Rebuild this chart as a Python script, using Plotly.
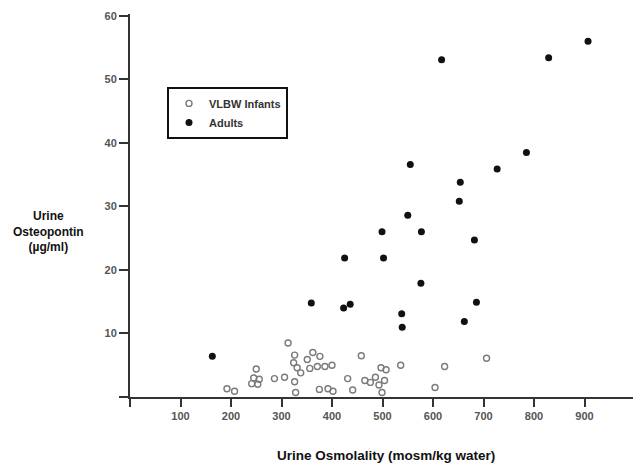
import plotly.graph_objects as go

# Urine osmolality (mosm/kg water) and osteopontin (µg/ml)
infant_osm = [313, 326, 362, 376, 351, 324, 331, 338, 356, 371, 386, 400,
              250, 245, 256, 241, 253, 286, 306, 326, 328, 192, 207, 375,
              392, 402, 458, 431, 441, 465, 476, 486, 493, 497, 507, 504,
              499, 536, 604, 623, 706]
infant_opn = [8.5, 6.6, 7.0, 6.4, 5.9, 5.4, 4.6, 3.8, 4.5, 4.8, 4.8, 5.0,
              4.4, 3.0, 2.8, 2.1, 2.0, 2.9, 3.1, 2.4, 0.7, 1.3, 0.9, 1.2,
              1.3, 0.9, 6.5, 2.9, 1.1, 2.6, 2.3, 3.1, 1.9, 4.6, 4.3, 2.6,
              0.7, 5.0, 1.5, 4.8, 6.1]

adult_osm = [163, 359, 423, 436, 425, 538, 539, 502, 499, 576, 550, 577,
             555, 617, 652, 654, 662, 682, 686, 727, 785, 829, 907]
adult_opn = [6.4, 14.8, 14.0, 14.6, 21.9, 13.1, 11.0, 21.9, 26.0, 17.9, 28.6, 26.0,
             36.6, 53.1, 30.8, 33.8, 11.9, 24.7, 14.9, 35.9, 38.5, 53.4, 56.0]

x_ticks = [0, 100, 200, 300, 400, 500, 600, 700, 800, 900]
x_labels = ["", "100", "200", "300", "400", "500", "600", "700", "800", "900"]
y_ticks = [0, 10, 20, 30, 40, 50, 60]
y_labels = ["", "10", "20", "30", "40", "50", "60"]

FONT = "Liberation Sans"

fig = go.Figure()
fig.add_trace(go.Scatter(
    x=infant_osm, y=infant_opn, mode="markers", name="VLBW Infants",
    legendgroup="a",
    marker=dict(symbol="circle-open", size=6, color="#7a7a7a", line=dict(width=1.4)),
))
fig.add_trace(go.Scatter(
    x=adult_osm, y=adult_opn, mode="markers", name="Adults",
    legendgroup="b",
    marker=dict(symbol="circle", size=7, color="#111111"),
))

axis_common = dict(
    showgrid=False, zeroline=False, showline=True, linewidth=2, linecolor="#333333",
    ticks="outside", tickwidth=2, tickcolor="#333333",
    tickfont=dict(family=FONT, size=11, color="#555555", weight="bold"),
)
fig.update_xaxes(range=[0, 996], tickmode="array", tickvals=x_ticks, ticktext=x_labels,
                 ticklen=8, **axis_common)
fig.update_yaxes(range=[0, 60.3], tickmode="array", tickvals=y_ticks, ticktext=y_labels,
                 ticklen=9, **axis_common)

fig.add_annotation(text="Urine Osmolality (mosm/kg water)", xref="paper", yref="paper",
                   x=(386 - 130) / 503, y=(397.5 - 456) / 383.5, showarrow=False,
                   xanchor="center", yanchor="middle",
                   font=dict(family=FONT, size=13.5, color="#111111", weight="bold"))
fig.add_annotation(text="Urine<br>Osteopontin<br>(µg/ml)", xref="paper", yref="paper",
                   x=(48 - 130) / 503, y=(397.5 - 232) / 383.5, showarrow=False,
                   xanchor="center", yanchor="middle", align="center",
                   font=dict(family=FONT, size=12, color="#111111", weight="bold"))

fig.update_layout(
    width=633, height=466,
    margin=dict(l=130, r=0, t=14, b=68.5),
    plot_bgcolor="white", paper_bgcolor="white",
    showlegend=True,
    legend=dict(x=(167 - 130) / 503, y=(397.5 - 87) / 383.5, xanchor="left", yanchor="top",
                bordercolor="#111111", borderwidth=2, bgcolor="white",
                tracegroupgap=0, itemwidth=30,
                font=dict(family=FONT, size=11, color="#333333", weight="bold")),
)

fig.write_html(
    "out.html",
    config={"displayModeBar": False},
    post_script="document.body.style.margin='0';document.body.style.overflow='hidden';",
)
